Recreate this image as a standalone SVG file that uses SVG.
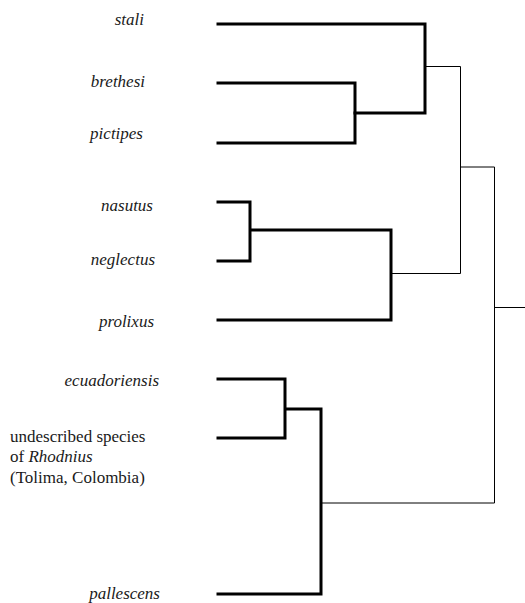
<svg xmlns="http://www.w3.org/2000/svg" width="525" height="603" viewBox="0 0 525 603">
<style>
text{font-family:"Liberation Serif","Times New Roman","DejaVu Serif",serif;font-size:17px;fill:#1a1a1a}
.sp{font-style:italic;text-anchor:end}
.thick{stroke:#000;stroke-width:3;fill:none;stroke-linecap:square;stroke-linejoin:miter}
.thin{stroke:#000;stroke-width:1;fill:none}
</style>
<rect width="525" height="603" fill="#fff"/>
<g id="stali"><text class="sp" x="144" y="25">stali</text></g>
<g id="brethesi"><text class="sp" x="145" y="87">brethesi</text></g>
<g id="pictipes"><text class="sp" x="143" y="139">pictipes</text></g>
<g id="nasutus"><text class="sp" x="153" y="211">nasutus</text></g>
<g id="neglectus"><text class="sp" x="155" y="265">neglectus</text></g>
<g id="prolixus"><text class="sp" x="154" y="327">prolixus</text></g>
<g id="ecuadoriensis"><text class="sp" x="159" y="386">ecuadoriensis</text></g>
<g id="undescribed"><text x="10" y="442">undescribed species</text><text x="10" y="462">of <tspan font-style="italic">Rhodnius</tspan></text><text x="10" y="483">(Tolima, Colombia)</text></g>
<g id="pallescens"><text class="sp" x="160" y="599">pallescens</text></g>
<g id="connectors">
<path class="thick" d="M218,24 H425 V113 H355"/>
<path class="thick" d="M218,83 H355 V143 H218"/>
<path class="thick" d="M218,202 H250 V261 H218 M250,230 H391 V320 H218"/>
<path class="thick" d="M218,379 H285 V438 H218 M285,409 H321 V594 H218"/>
<path class="thin" d="M425,66.5 H460.5 V273.5 H391 M460.5,167 H494.5 V503 H321 M494.5,307.5 H525"/>
</g>
</svg>
